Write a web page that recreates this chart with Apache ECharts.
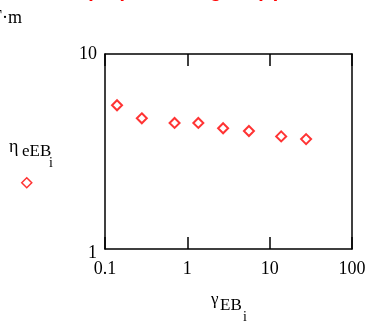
<!DOCTYPE html>
<html>
<head>
<meta charset="utf-8">
<script src="https://cdn.jsdelivr.net/npm/echarts@6/dist/echarts.min.js"></script>
<style>
  html, body { margin: 0; padding: 0; background: #fff; }
  #main { width: 371px; height: 326px; }
</style>
</head>
<body>
<div id="main"></div>
<script>
// gamma_EB_i (x) and eta_eEB_i (y)
var gammaEB = [0.14, 0.28, 0.7, 1.36, 2.72, 5.6, 13.8, 27.7];
var etaEEB = [5.46, 4.68, 4.43, 4.43, 4.16, 4.03, 3.78, 3.66];
var xTicks = [0.1, 1, 10, 100];
var yTicks = [1, 10];

var serif = '"Liberation Serif", "DejaVu Serif", serif';
var chart = echarts.init(document.getElementById('main'), null, { renderer: 'canvas' });

var points = [];
for (var i = 0; i < gammaEB.length; i++) {
  points.push([gammaEB[i], etaEEB[i]]);
}

var option = {
  backgroundColor: '#fff',
  animation: false,
  grid: { left: 105, right: 19, top: 54, bottom: 77 },
  legend: {
    data: [{ name: 'eta', icon: 'path://M5,0L10,5L5,10L0,5Z' }],
    left: 16, top: 172,
    itemWidth: 10, itemHeight: 10,
    itemStyle: { color: '#ffffff', borderColor: '#ff0000', borderWidth: 1.5 },
    formatter: function () { return ''; },
    selectedMode: false
  },
  xAxis: [
    {
      type: 'log', logBase: 10, min: xTicks[0], max: xTicks[xTicks.length - 1],
      axisLine: { lineStyle: { color: '#000', width: 1.5 } },
      axisTick: { inside: true, length: 12, lineStyle: { color: '#000', width: 1.5 } },
      axisLabel: { color: '#000', fontFamily: serif, fontSize: 18, margin: 11,
        formatter: function (v) { return String(v); } },
      splitLine: { show: false }
    },
    {
      type: 'log', logBase: 10, min: xTicks[0], max: xTicks[xTicks.length - 1],
      position: 'top',
      axisLine: { lineStyle: { color: '#000', width: 1.5 } },
      axisTick: { inside: true, length: 12, lineStyle: { color: '#000', width: 1.5 } },
      axisLabel: { show: false },
      splitLine: { show: false }
    }
  ],
  yAxis: [
    {
      type: 'log', logBase: 10, min: yTicks[0], max: yTicks[1],
      axisLine: { lineStyle: { color: '#000', width: 1.5 } },
      axisTick: { show: false },
      axisLabel: { color: '#000', fontFamily: serif, fontSize: 18, margin: 8,
        formatter: function (v) { return v === 1 ? '{lo|1}' : String(v); },
        rich: { lo: { fontFamily: serif, fontSize: 18, color: '#000', padding: [8, 0, 0, 0] } } },
      splitLine: { show: false }
    },
    {
      type: 'log', logBase: 10, min: yTicks[0], max: yTicks[1],
      position: 'right',
      axisLine: { lineStyle: { color: '#000', width: 1.5 } },
      axisTick: { show: false },
      axisLabel: { show: false },
      splitLine: { show: false }
    }
  ],
  series: [
    {
      name: 'eta',
      type: 'scatter',
      symbol: 'emptyDiamond',
      symbolSize: 10,
      itemStyle: { color: '#ff0000', borderColor: '#ff0000', borderWidth: 1.5 },
      data: points
    }
  ],
  graphic: [
    // red heading, cut off at the top edge
    { type: 'text', left: 86, top: -19, silent: true,
      style: { text: '(EB)', fill: '#ff0000', font: 'bold 20px "Liberation Sans", Arial, sans-serif' } },
    { type: 'text', left: 172, top: -19, silent: true,
      style: { text: 'Range', fill: '#ff0000', font: 'bold 20px "Liberation Sans", Arial, sans-serif' } },
    { type: 'text', left: 256, top: -19, silent: true,
      style: { text: '(a)', fill: '#ff0000', font: 'bold 20px "Liberation Sans", Arial, sans-serif' } },
    // unit fragment at top left
    { type: 'text', left: -8, top: 9, silent: true,
      style: { text: 'F·m', fill: '#000', font: '18px ' + serif } },
    // y axis name: eta_eEB_i
    { type: 'text', left: 9, top: 138, silent: true,
      style: { text: 'η', fill: '#000', font: '18px ' + serif } },
    { type: 'text', left: 22, top: 143, silent: true,
      style: { text: 'eEB', fill: '#000', font: '17px ' + serif } },
    { type: 'text', left: 49, top: 156, silent: true,
      style: { text: 'i', fill: '#000', font: '14px ' + serif } },
    // x axis name: gamma_EB_i
    { type: 'text', left: 211, top: 291, silent: true,
      style: { text: 'γ', fill: '#000', font: '17px ' + serif } },
    { type: 'text', left: 220, top: 297, silent: true,
      style: { text: 'EB', fill: '#000', font: '17px ' + serif } },
    { type: 'text', left: 243, top: 310, silent: true,
      style: { text: 'i', fill: '#000', font: '14px ' + serif } }
  ]
};

chart.setOption(option);
</script>
</body>
</html>
